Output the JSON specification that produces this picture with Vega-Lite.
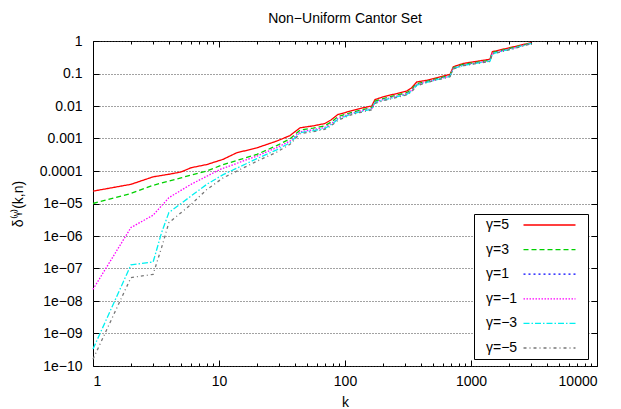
{
  "$schema": "https://vega.github.io/schema/vega-lite/v6.json",
  "width": 504,
  "height": 325,
  "autosize": {"type": "none"},
  "padding": {"left": 93, "top": 41, "right": 24, "bottom": 43},
  "background": "white",
  "title": {"text": "Non−Uniform Cantor Set", "fontSize": 14, "fontWeight": "normal", "font": "Liberation Sans", "offset": 8, "color": "#000"},
  "config": {
    "view": {"stroke": "#000", "strokeWidth": 1},
    "axis": {"labelFont": "Liberation Sans", "titleFont": "Liberation Sans", "labelFontSize": 14, "titleFontSize": 14, "titleFontWeight": "normal", "labelColor": "#000", "titleColor": "#000", "tickColor": "#000", "domain": false, "grid": false}
  },
  "datasets": {
    "curves": [
      {"s":"γ=5","k":1,"d":2.40e-5},{"s":"γ=5","k":2,"d":3.89e-5},{"s":"γ=5","k":3,"d":6.61e-5},{"s":"γ=5","k":4,"d":7.94e-5},{"s":"γ=5","k":5,"d":9.33e-5},{"s":"γ=5","k":6,"d":1.26e-4},{"s":"γ=5","k":8,"d":1.58e-4},{"s":"γ=5","k":10.8,"d":2.29e-4},{"s":"γ=5","k":13.8,"d":3.63e-4},{"s":"γ=5","k":19.9,"d":5.13e-4},{"s":"γ=5","k":28.7,"d":8.32e-4},{"s":"γ=5","k":36.6,"d":1.23e-3},{"s":"γ=5","k":44,"d":2.14e-3},{"s":"γ=5","k":56,"d":2.45e-3},{"s":"γ=5","k":69,"d":2.88e-3},{"s":"γ=5","k":78,"d":3.80e-3},{"s":"γ=5","k":88,"d":5.50e-3},{"s":"γ=5","k":110,"d":6.92e-3},{"s":"γ=5","k":131,"d":8.32e-3},{"s":"γ=5","k":163,"d":1.00e-2},{"s":"γ=5","k":173,"d":1.58e-2},{"s":"γ=5","k":201,"d":1.91e-2},{"s":"γ=5","k":309,"d":2.88e-2},{"s":"γ=5","k":338,"d":3.63e-2},{"s":"γ=5","k":371,"d":5.50e-2},{"s":"γ=5","k":445,"d":6.17e-2},{"s":"γ=5","k":681,"d":9.33e-2},{"s":"γ=5","k":724,"d":1.62e-1},{"s":"γ=5","k":869,"d":2.04e-1},{"s":"γ=5","k":1415,"d":2.75e-1},{"s":"γ=5","k":1476,"d":4.68e-1},{"s":"γ=5","k":2168,"d":6.61e-1},{"s":"γ=5","k":3020,"d":8.91e-1},
      {"s":"γ=3","k":1,"d":1.00e-5},{"s":"γ=3","k":2,"d":2.04e-5},{"s":"γ=3","k":3,"d":3.63e-5},{"s":"γ=3","k":5,"d":6.17e-5},{"s":"γ=3","k":8,"d":1.00e-4},{"s":"γ=3","k":10.8,"d":1.58e-4},{"s":"γ=3","k":20,"d":3.24e-4},{"s":"γ=3","k":28.7,"d":6.03e-4},{"s":"γ=3","k":36.6,"d":9.77e-4},{"s":"γ=3","k":44,"d":1.82e-3},{"s":"γ=3","k":56,"d":2.09e-3},{"s":"γ=3","k":69,"d":2.45e-3},{"s":"γ=3","k":78,"d":3.24e-3},{"s":"γ=3","k":88,"d":4.68e-3},{"s":"γ=3","k":110,"d":6.17e-3},{"s":"γ=3","k":131,"d":7.41e-3},{"s":"γ=3","k":163,"d":8.91e-3},{"s":"γ=3","k":173,"d":1.41e-2},{"s":"γ=3","k":201,"d":1.70e-2},{"s":"γ=3","k":309,"d":2.57e-2},{"s":"γ=3","k":338,"d":3.24e-2},{"s":"γ=3","k":371,"d":4.90e-2},{"s":"γ=3","k":445,"d":5.75e-2},{"s":"γ=3","k":681,"d":8.71e-2},{"s":"γ=3","k":724,"d":1.51e-1},{"s":"γ=3","k":869,"d":1.91e-1},{"s":"γ=3","k":1415,"d":2.57e-1},{"s":"γ=3","k":1476,"d":4.37e-1},{"s":"γ=3","k":2168,"d":6.31e-1},{"s":"γ=3","k":3020,"d":8.71e-1},
      {"s":"γ=−1","k":1,"d":2.29e-8},{"s":"γ=−1","k":2,"d":1.82e-6},{"s":"γ=−1","k":3,"d":4.37e-6},{"s":"γ=−1","k":4,"d":1.51e-5},{"s":"γ=−1","k":6,"d":3.89e-5},{"s":"γ=−1","k":10.2,"d":1.12e-4},{"s":"γ=−1","k":20,"d":2.88e-4},{"s":"γ=−1","k":28.7,"d":5.25e-4},{"s":"γ=−1","k":36.6,"d":8.32e-4},{"s":"γ=−1","k":44,"d":1.62e-3},{"s":"γ=−1","k":56,"d":1.86e-3},{"s":"γ=−1","k":69,"d":2.19e-3},{"s":"γ=−1","k":78,"d":2.88e-3},{"s":"γ=−1","k":88,"d":4.17e-3},{"s":"γ=−1","k":110,"d":5.75e-3},{"s":"γ=−1","k":131,"d":6.92e-3},{"s":"γ=−1","k":163,"d":8.32e-3},{"s":"γ=−1","k":173,"d":1.32e-2},{"s":"γ=−1","k":201,"d":1.58e-2},{"s":"γ=−1","k":309,"d":2.40e-2},{"s":"γ=−1","k":338,"d":3.02e-2},{"s":"γ=−1","k":371,"d":4.57e-2},{"s":"γ=−1","k":445,"d":5.50e-2},{"s":"γ=−1","k":681,"d":8.32e-2},{"s":"γ=−1","k":724,"d":1.45e-1},{"s":"γ=−1","k":869,"d":1.82e-1},{"s":"γ=−1","k":1415,"d":2.45e-1},{"s":"γ=−1","k":1476,"d":4.17e-1},{"s":"γ=−1","k":2168,"d":6.03e-1},{"s":"γ=−1","k":3020,"d":8.51e-1},
      {"s":"γ=−3","k":1,"d":3.31e-10},{"s":"γ=−3","k":2,"d":1.29e-7},{"s":"γ=−3","k":3,"d":1.58e-7},{"s":"γ=−3","k":3.5,"d":1.26e-6},{"s":"γ=−3","k":4,"d":5.25e-6},{"s":"γ=−3","k":6,"d":1.70e-5},{"s":"γ=−3","k":8,"d":3.89e-5},{"s":"γ=−3","k":10.8,"d":7.76e-5},{"s":"γ=−3","k":20,"d":2.40e-4},{"s":"γ=−3","k":28.7,"d":4.47e-4},{"s":"γ=−3","k":36.6,"d":7.41e-4},{"s":"γ=−3","k":44,"d":1.51e-3},{"s":"γ=−3","k":56,"d":1.74e-3},{"s":"γ=−3","k":69,"d":2.04e-3},{"s":"γ=−3","k":78,"d":2.69e-3},{"s":"γ=−3","k":88,"d":3.89e-3},{"s":"γ=−3","k":110,"d":5.50e-3},{"s":"γ=−3","k":131,"d":6.61e-3},{"s":"γ=−3","k":163,"d":7.94e-3},{"s":"γ=−3","k":173,"d":1.26e-2},{"s":"γ=−3","k":201,"d":1.51e-2},{"s":"γ=−3","k":309,"d":2.29e-2},{"s":"γ=−3","k":338,"d":2.88e-2},{"s":"γ=−3","k":371,"d":4.37e-2},{"s":"γ=−3","k":445,"d":5.37e-2},{"s":"γ=−3","k":681,"d":8.13e-2},{"s":"γ=−3","k":724,"d":1.41e-1},{"s":"γ=−3","k":869,"d":1.78e-1},{"s":"γ=−3","k":1415,"d":2.40e-1},{"s":"γ=−3","k":1476,"d":4.07e-1},{"s":"γ=−3","k":2168,"d":5.89e-1},{"s":"γ=−3","k":3020,"d":8.51e-1},
      {"s":"γ=−5","k":1,"d":1.62e-10},{"s":"γ=−5","k":2,"d":5.25e-8},{"s":"γ=−5","k":3,"d":6.61e-8},{"s":"γ=−5","k":3.5,"d":4.37e-7},{"s":"γ=−5","k":4,"d":2.57e-6},{"s":"γ=−5","k":6,"d":9.33e-6},{"s":"γ=−5","k":8,"d":2.69e-5},{"s":"γ=−5","k":10.8,"d":6.17e-5},{"s":"γ=−5","k":20,"d":2.00e-4},{"s":"γ=−5","k":28.7,"d":3.80e-4},{"s":"γ=−5","k":36.6,"d":6.61e-4},{"s":"γ=−5","k":44,"d":1.41e-3},{"s":"γ=−5","k":56,"d":1.62e-3},{"s":"γ=−5","k":69,"d":1.91e-3},{"s":"γ=−5","k":78,"d":2.51e-3},{"s":"γ=−5","k":88,"d":3.63e-3},{"s":"γ=−5","k":110,"d":5.25e-3},{"s":"γ=−5","k":131,"d":6.31e-3},{"s":"γ=−5","k":163,"d":7.59e-3},{"s":"γ=−5","k":173,"d":1.20e-2},{"s":"γ=−5","k":201,"d":1.45e-2},{"s":"γ=−5","k":309,"d":2.19e-2},{"s":"γ=−5","k":338,"d":2.75e-2},{"s":"γ=−5","k":371,"d":4.17e-2},{"s":"γ=−5","k":445,"d":5.25e-2},{"s":"γ=−5","k":681,"d":7.94e-2},{"s":"γ=−5","k":724,"d":1.38e-1},{"s":"γ=−5","k":869,"d":1.74e-1},{"s":"γ=−5","k":1415,"d":2.34e-1},{"s":"γ=−5","k":1476,"d":3.98e-1},{"s":"γ=−5","k":2168,"d":5.75e-1},{"s":"γ=−5","k":3020,"d":8.32e-1}
    ],
    "dummy": [{"k": 1, "d": 1}]
  },
  "layer": [
    {
      "data": {"name": "curves"},
      "mark": {"type": "line", "strokeWidth": 1.3},
      "encoding": {
        "x": {"field": "k", "type": "quantitative", "scale": {"type": "log", "domain": [1, 10000]},
              "axis": {"orient": "bottom", "values": [1, 10, 100, 1000, 10000], "format": "d", "offset": -6, "tickSize": 6, "labelPadding": 8, "title": "k", "titlePadding": 7}},
        "y": {"field": "d", "type": "quantitative", "scale": {"type": "log", "domain": [1e-10, 1]},
              "axis": {"orient": "left", "values": [1e-10, 1e-9, 1e-8, 1e-7, 1e-6, 1e-5, 1e-4, 1e-3, 1e-2, 1e-1, 1],
                       "labelExpr": "['1e−10','1e−09','1e−08','1e−07','1e−06','1e−05','0.0001','0.001','0.01','0.1','1'][round(log(datum.value)/LN10)+10]",
                       "offset": -6, "tickSize": 6, "labelPadding": 11, "title": "δ⁽ᵞ⁾(k,n)", "titlePadding": 14,
                       "grid": true, "gridColor": "#444", "gridDash": [1, 2]}},
        "color": {"field": "s", "type": "nominal",
                  "scale": {"domain": ["γ=5", "γ=3", "γ=1", "γ=−1", "γ=−3", "γ=−5"], "range": ["#ff0000", "#00d000", "#0000ff", "#ff00ff", "#00f0f0", "#777777"]},
                  "legend": {"title": null, "orient": "none", "legendX": 381, "legendY": 173, "fillColor": "white", "strokeColor": "#000", "padding": 4, "symbolType": "M7.7,0H18.1M19.1,0H19.1", "symbolSize": 100, "symbolStrokeWidth": 1.3, "labelOffset": -6, "rowPadding": 10.6, "labelFontSize": 14, "labelFont": "Liberation Sans", "labelColor": "#000"}},
        "strokeDash": {"field": "s", "type": "nominal",
                  "scale": {"domain": ["γ=5", "γ=3", "γ=1", "γ=−1", "γ=−3", "γ=−5"], "range": [[1, 0], [5, 3], [2, 3], [1.5, 1.5], [6, 2, 1.5, 2], [3, 3, 1, 3]]},
                  "legend": {"title": null, "orient": "none", "legendX": 381, "legendY": 173, "fillColor": "white", "strokeColor": "#000", "padding": 4, "symbolType": "M7.7,0H18.1M19.1,0H19.1", "symbolSize": 100, "symbolStrokeWidth": 1.3, "labelOffset": -6, "rowPadding": 10.6, "labelFontSize": 14, "labelFont": "Liberation Sans", "labelColor": "#000"}}
      }
    },
    {
      "data": {"name": "dummy"},
      "mark": {"type": "point", "opacity": 0},
      "encoding": {
        "x": {"field": "k", "type": "quantitative", "scale": {"type": "log", "domain": [1, 10000]},
              "axis": {"orient": "top", "values": [1, 10, 100, 1000, 10000], "offset": -6, "tickSize": 6, "labels": false, "title": null}},
        "y": {"field": "d", "type": "quantitative", "scale": {"type": "log", "domain": [1e-10, 1]},
              "axis": {"orient": "right", "values": [1e-10, 1e-9, 1e-8, 1e-7, 1e-6, 1e-5, 1e-4, 1e-3, 1e-2, 1e-1, 1], "offset": -6, "tickSize": 6, "labels": false, "title": null}}
      }
    },
    {
      "data": {"name": "dummy"},
      "mark": {"type": "point", "opacity": 0},
      "encoding": {
        "x": {"field": "k", "type": "quantitative", "scale": {"type": "log", "domain": [1, 10000]},
              "axis": {"orient": "bottom", "values": [2,3,4,5,6,7,8,9,20,30,40,50,60,70,80,90,200,300,400,500,600,700,800,900,2000,3000,4000,5000,6000,7000,8000,9000], "offset": -3, "tickSize": 3, "labels": false, "title": null}},
        "y": {"field": "d", "type": "quantitative", "scale": {"type": "log", "domain": [1e-10, 1]}, "axis": null}
      }
    },
    {
      "data": {"name": "dummy"},
      "mark": {"type": "point", "opacity": 0},
      "encoding": {
        "x": {"field": "k", "type": "quantitative", "scale": {"type": "log", "domain": [1, 10000]},
              "axis": {"orient": "top", "values": [2,3,4,5,6,7,8,9,20,30,40,50,60,70,80,90,200,300,400,500,600,700,800,900,2000,3000,4000,5000,6000,7000,8000,9000], "offset": -3, "tickSize": 3, "labels": false, "title": null}},
        "y": {"field": "d", "type": "quantitative", "scale": {"type": "log", "domain": [1e-10, 1]}, "axis": null}
      }
    }
  ],
  "resolve": {"axis": {"x": "independent", "y": "independent"}}
}
